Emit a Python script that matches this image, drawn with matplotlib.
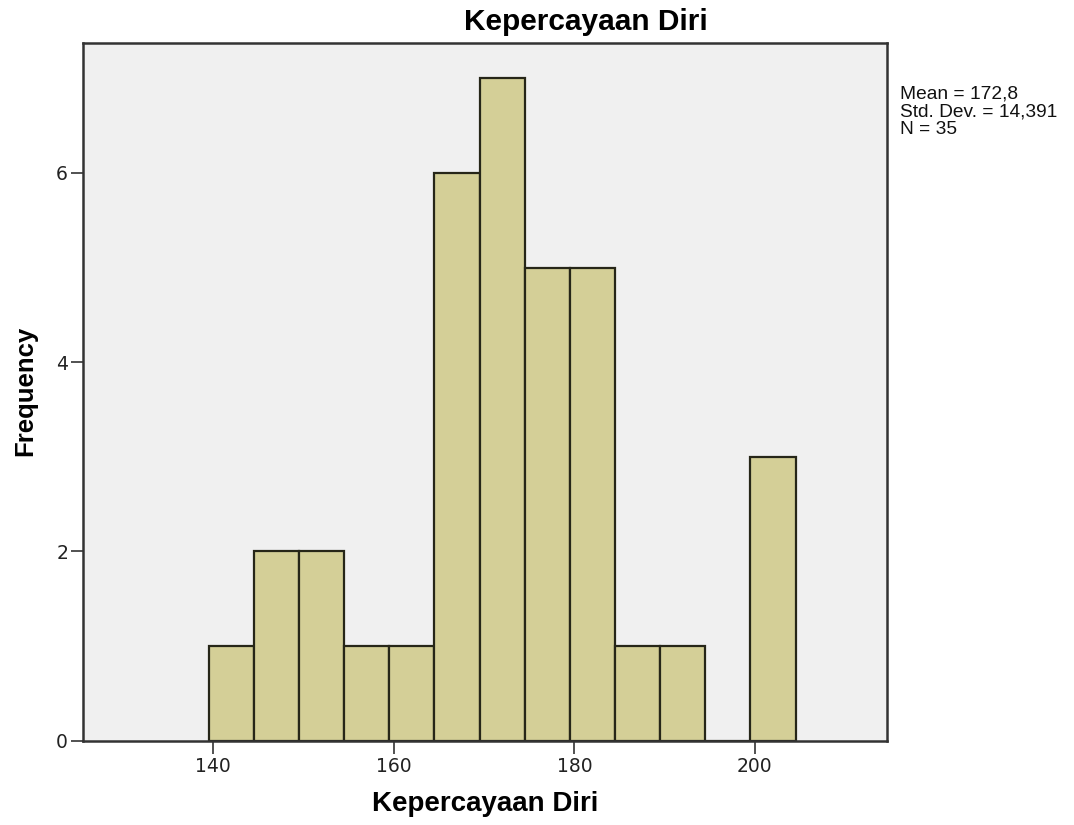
import matplotlib
matplotlib.use("Agg")
import matplotlib.pyplot as plt
import numpy as np

plt.rcParams['font.family'] = ['Liberation Sans', 'DejaVu Sans']

# Data: histogram bins (edges) and counts
bin_edges = [139.5, 144.5, 149.5, 154.5, 159.5, 164.5, 169.5, 174.5, 179.5, 184.5, 189.5, 194.5, 199.5, 204.5]
counts = [1, 2, 2, 1, 1, 6, 7, 5, 5, 1, 1, 0, 3]
x_ticks = [140, 160, 180, 200]
y_ticks = [0, 2, 4, 6]
title = "Kepercayaan Diri"
xlabel = "Kepercayaan Diri"
ylabel = "Frequency"
stats_lines = ["Mean = 172,8", "Std. Dev. = 14,391", "N = 35"]

fig = plt.figure(figsize=(10.74, 8.25), dpi=100)
ax = fig.add_axes([0.0776, 0.1022, 0.8256 - 0.0776, 0.9475 - 0.1022])
ax.set_facecolor('#f0f0f0')

ax.hist(bin_edges[:-1], bins=bin_edges, weights=counts, color='#d4cf97',
        edgecolor='#262618', linewidth=1.6)

ax.set_xlim(125.6, 214.6)
ax.set_ylim(0, 7.37)
ax.set_xticks(x_ticks)
ax.set_yticks(y_ticks)
ax.tick_params(axis='both', labelsize=13.5, length=9, width=1.2, color='#333333', labelcolor='#222222')
ax.tick_params(axis='x', pad=3)
ax.tick_params(axis='y', pad=2)
for lab in ax.get_xticklabels() + ax.get_yticklabels():
    lab.set_family('DejaVu Sans')
for s in ax.spines.values():
    s.set_linewidth(1.8)
    s.set_color('#333333')

fig.text(0.5456, 0.9733, title, fontsize=21.5, fontweight='bold', ha='center', va='center')
ax.set_xlabel(xlabel, fontsize=20, fontweight='bold', va='center')
ax.xaxis.set_label_coords(0.5, -0.0908)
ax.set_ylabel(ylabel, fontsize=18.5, fontweight='bold', va='center')
ax.yaxis.set_label_coords(-0.0726, 0.5014)

fig.text(0.838, 0.896, "\n".join(stats_lines), fontsize=13.8, va='top', ha='left',
         linespacing=1.05, color='#111111')

fig.savefig("out.png", dpi=100)
